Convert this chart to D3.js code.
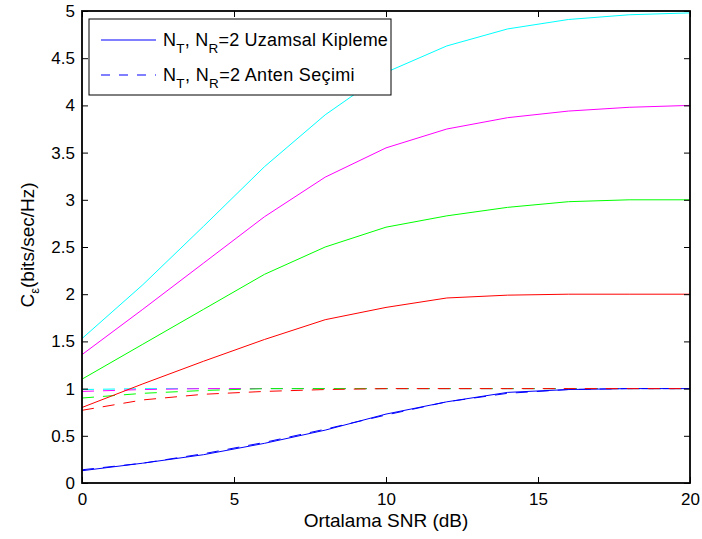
<!DOCTYPE html>
<html><head><meta charset="utf-8">
<script src="https://cdn.jsdelivr.net/npm/d3@7"></script>
<style>body{margin:0;background:#fff}svg{display:block}text{font-family:"Liberation Sans",Arial,sans-serif}</style>
</head><body><svg id="c" width="702" height="539"></svg>
<script>
const snr = [0,2,4,6,8,10,12,14,16,18,20];
const smBlue    = [0.13,0.21,0.30,0.42,0.56,0.73,0.86,0.96,0.99,1.00,1.00];
const smRed     = [0.80,1.05,1.29,1.52,1.73,1.86,1.96,1.99,2.00,2.00,2.00];
const smGreen   = [1.10,1.47,1.84,2.21,2.50,2.71,2.83,2.92,2.98,3.00,3.00];
const smMagenta = [1.36,1.84,2.33,2.82,3.24,3.55,3.75,3.87,3.94,3.98,4.00];
const smCyan    = [1.53,2.10,2.72,3.35,3.90,4.35,4.63,4.81,4.91,4.96,4.98];
const asBlue    = [0.14,0.21,0.31,0.43,0.57,0.72,0.86,0.95,0.99,1.00,1.00];
const asRed     = [0.77,0.88,0.94,0.97,0.99,1.00,1.00,1.00,1.00,1.00,1.00];
const asGreen   = [0.90,0.95,0.98,1.00,1.00,1.00,1.00,1.00,1.00,1.00,1.00];
const asMagenta = [0.97,0.99,1.00,1.00,1.00,1.00,1.00,1.00,1.00,1.00,1.00];
const asCyan    = [0.99,1.00,1.00,1.00,1.00,1.00,1.00,1.00,1.00,1.00,1.00];
const xTicks = [0,5,10,15,20];
const yTicks = [0,0.5,1,1.5,2,2.5,3,3.5,4,4.5,5];
const legendLabels = ["Uzamsal Kipleme","Anten Seçimi"];

const svg = d3.select("#c");
const L=82,R=690,T=11,B=483;
const x = d3.scaleLinear().domain([0,20]).range([L,R]);
const y = d3.scaleLinear().domain([0,5]).range([B,T]);
const line = d3.line().x((d,i)=>x(snr[i])).y(d=>y(d));

const series = [
  {v:asCyan,c:"#00ffff",d:true},{v:asMagenta,c:"#ff00ff",d:true},{v:asGreen,c:"#00ff00",d:true},
  {v:smCyan,c:"#00ffff"},{v:smMagenta,c:"#ff00ff"},{v:smGreen,c:"#00ff00"},{v:smRed,c:"#ff0000"},
  {v:smBlue,c:"#0000ff"},{v:asBlue,c:"#0000ff",d:true},{v:asRed,c:"#ff0000",d:true}
];
const g = svg.append("g");
series.forEach(s=>{
  g.append("path").attr("d",line(s.v)).attr("fill","none").attr("stroke",s.c)
   .attr("stroke-width",1).attr("stroke-dasharray",s.d?"12,9":null);
});

const tl=6;
const xb = d3.axisBottom(x).tickValues(xTicks).tickSize(-tl).tickPadding(10).tickFormat(d3.format("d"));
const xt = d3.axisTop(x).tickValues(xTicks).tickSize(-tl).tickFormat("");
const yl = d3.axisLeft(y).tickValues(yTicks).tickSize(-tl).tickPadding(7).tickFormat(d=>String(d));
const yr = d3.axisRight(y).tickValues(yTicks).tickSize(-tl).tickFormat("");
function style(a){a.select(".domain").remove();a.selectAll("line").attr("stroke","#000");
  a.selectAll("text").attr("font-size",17).attr("fill","#000").attr("font-family","Liberation Sans, Arial, sans-serif");}
svg.append("g").attr("transform",`translate(0,${B})`).call(xb).call(style);
svg.append("g").attr("transform",`translate(0,${T})`).call(xt).call(style);
svg.append("g").attr("transform",`translate(${L},0)`).call(yl).call(style);
svg.append("g").attr("transform",`translate(${R},0)`).call(yr).call(style);
svg.append("rect").attr("x",L).attr("y",T).attr("width",R-L).attr("height",B-T)
  .attr("fill","none").attr("stroke","#000").attr("stroke-width",1.8);

function fitSpacing(t, target){
  const w = t.node().getBBox().width;
  const n = t.text().length;
  if (w < target) t.attr("letter-spacing", ((target-w)/n).toFixed(2));
}

const xlab = svg.append("text").attr("x",386).attr("y",527).attr("text-anchor","middle")
  .attr("font-size",19).text("Ortalama SNR (dB)");
fitSpacing(xlab,160);

const yt = svg.append("text").attr("transform","translate(34,245) rotate(-90)").attr("text-anchor","middle").attr("font-size",19);
yt.append("tspan").text("C");
yt.append("tspan").attr("font-size",13).attr("dy",5).text("ε");
yt.append("tspan").attr("dy",-5).text("(bits/sec/Hz)");

const lg = svg.append("g");
lg.append("rect").attr("x",89).attr("y",19).attr("width",302).attr("height",76)
  .attr("fill","#fff").attr("stroke","#000").attr("stroke-width",1);
const targets=[225,192];
legendLabels.forEach((lab,i)=>{
  const yy = i===0?40:75;
  lg.append("line").attr("x1",101).attr("x2",156).attr("y1",yy).attr("y2",yy)
    .attr("stroke","#0000ff").attr("stroke-dasharray",i?"9,9":null);
  const t = lg.append("text").attr("x",163).attr("y",yy+6).attr("font-size",18);
  t.append("tspan").text("N");
  t.append("tspan").attr("font-size",13.5).attr("dy",7).text("T");
  t.append("tspan").attr("dy",-7).text(", N");
  t.append("tspan").attr("font-size",13.5).attr("dy",7).text("R");
  t.append("tspan").attr("dy",-7).text("=2 "+lab);
  fitSpacing(t,targets[i]);
});
</script></body></html>
